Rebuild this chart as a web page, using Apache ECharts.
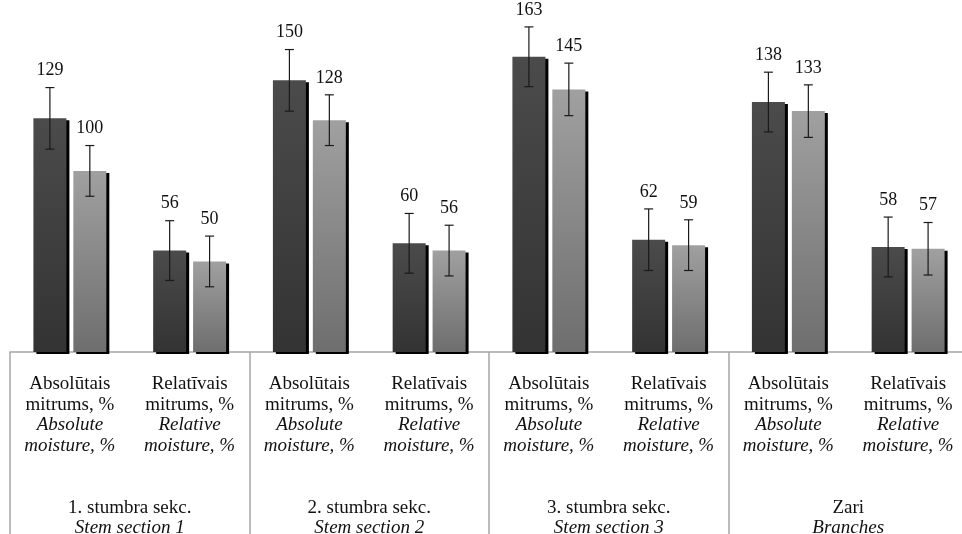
<!DOCTYPE html>
<html>
<head>
<meta charset="utf-8">
<script src="https://cdn.jsdelivr.net/npm/echarts@6/dist/echarts.min.js"></script>
<style>
html,body{margin:0;padding:0;background:#fff;overflow:hidden;}
#chart{width:962px;height:534px;}
</style>
</head>
<body>
<div id="chart"></div>
<script>
// ---- data ----
const groupsLv = ['1. stumbra sekc.', '2. stumbra sekc.', '3. stumbra sekc.', 'Zari'];
const groupsEn = ['Stem section 1', 'Stem section 2', 'Stem section 3', 'Branches'];
const measuresLv = ['Absolūtais\nmitrums, %', 'Relatīvais\nmitrums, %'];
const measuresEn = ['Absolute\nmoisture, %', 'Relative\nmoisture, %'];
const seriesDark = [129, 56, 150, 60, 163, 62, 138, 58];
const seriesLight = [100, 50, 128, 56, 145, 59, 133, 57];
const errDark = [17, 16.5, 17, 16.5, 16.5, 17, 16.5, 16.5];
const errLight = [14, 14, 14, 14, 14.5, 14, 14.5, 14.5];

// categories: each group x each measure
const categories = [];
groupsLv.forEach((g, gi) => measuresLv.forEach((m, mi) => categories.push(gi + '-' + mi)));

const FONT = 'Liberation Serif';
const BAR_W = 33;
const GAP = 0.21;
const axisGray = '#a6a6a6';

function errSeries(values, errs, sign) {
  return {
    type: 'custom',
    xAxisIndex: 0,
    z: 5,
    clip: false,
    data: values.map((v, i) => [i, v, errs[i]]),
    renderItem: function (params, api) {
      const i = api.value(0), v = api.value(1), e = api.value(2);
      const off = sign * (BAR_W + BAR_W * GAP) / 2;
      const x = api.coord([i, v])[0] + off;
      const yTop = api.coord([i, v + e])[1];
      const yBot = api.coord([i, v - e])[1];
      const cap = 4.5;
      const ls = { stroke: '#1a1a1a', lineWidth: 1.2 };
      return {
        type: 'group',
        children: [
          { type: 'line', shape: { x1: x, y1: yTop, x2: x, y2: yBot }, style: ls },
          { type: 'line', shape: { x1: x - cap, y1: yTop, x2: x + cap, y2: yTop }, style: ls },
          { type: 'line', shape: { x1: x - cap, y1: yBot, x2: x + cap, y2: yBot }, style: ls },
          { type: 'text', style: { text: String(v), x: x, y: yTop - 17, align: 'center', verticalAlign: 'middle',
              font: '18px "' + FONT + '"', fill: '#111' } }
        ]
      };
    }
  };
}

const chart = echarts.init(document.getElementById('chart'));
chart.setOption({
  backgroundColor: '#fff',
  animation: false,
  grid: { left: 10, width: 958, top: 26, height: 326, containLabel: false, outerBoundsMode: 'none' },
  xAxis: [
    {
      type: 'category',
      data: categories,
      position: 'bottom',
      axisLine: { show: true, lineStyle: { color: axisGray, width: 1.5 } },
      axisTick: { show: false },
      axisLabel: {
        margin: 22,
        interval: 0,
        formatter: function (val) {
          const mi = Number(val.split('-')[1]);
          const lv = measuresLv[mi].split('\n').map(s => '{n|' + s + '}');
          const en = measuresEn[mi].split('\n').map(s => '{i|' + s + '}');
          return lv.concat(en).join('\n');
        },
        rich: {
          n: { fontFamily: FONT, fontSize: 19, lineHeight: 20.5, color: '#111' },
          i: { fontFamily: FONT, fontSize: 19, lineHeight: 20.5, color: '#111', fontStyle: 'italic' }
        }
      }
    },
    {
      type: 'category',
      data: groupsLv,
      position: 'bottom',
      axisLine: { show: false },
      axisTick: { show: true, length: 182, lineStyle: { color: axisGray, width: 1.5 } },
      axisLabel: {
        margin: 147,
        interval: 0,
        formatter: function (val, idx) {
          return '{n|' + val + '}\n{i|' + groupsEn[idx] + '}';
        },
        rich: {
          n: { fontFamily: FONT, fontSize: 19, lineHeight: 19, color: '#111' },
          i: { fontFamily: FONT, fontSize: 19, lineHeight: 19, color: '#111', fontStyle: 'italic' }
        }
      }
    }
  ],
  yAxis: { type: 'value', min: 0, max: 180, show: false, splitLine: { show: false } },
  series: [
    {
      name: 'dark',
      type: 'bar',
      xAxisIndex: 0,
      data: seriesDark,
      barWidth: BAR_W,
      barGap: (GAP * 100) + '%',
      itemStyle: {
        color: new echarts.graphic.LinearGradient(0, 0, 0, 1, [
          { offset: 0, color: '#4b4b4b' }, { offset: 1, color: '#333333' }
        ]),
        shadowColor: '#000', shadowOffsetX: 3, shadowOffsetY: 2, shadowBlur: 0
      }
    },
    {
      name: 'light',
      type: 'bar',
      xAxisIndex: 0,
      data: seriesLight,
      barWidth: BAR_W,
      barGap: (GAP * 100) + '%',
      itemStyle: {
        color: new echarts.graphic.LinearGradient(0, 0, 0, 1, [
          { offset: 0, color: '#a0a0a0' }, { offset: 1, color: '#6e6e6e' }
        ]),
        shadowColor: '#000', shadowOffsetX: 3, shadowOffsetY: 2, shadowBlur: 0
      }
    },
    errSeries(seriesDark, errDark, -1),
    errSeries(seriesLight, errLight, 1)
  ]
});
</script>
</body>
</html>
